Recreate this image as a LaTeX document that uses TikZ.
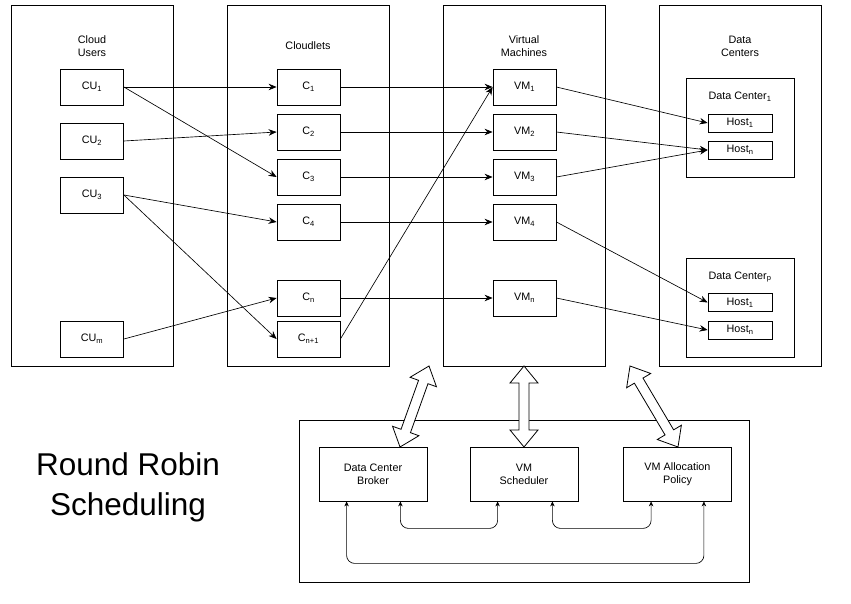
\documentclass[tikz,border=0pt]{standalone}
\usepackage{fontspec}
\setmainfont{Liberation Sans}
\usetikzlibrary{arrows.meta,calc}
\newcommand\hollowarrow[2]{%
  \coordinate (ha) at ($(#1)!17pt!(#2)$);
  \coordinate (hb) at ($(#2)!17pt!(#1)$);
  \draw[line width=0.8pt, fill=white] (#1) -- ($(ha)!14pt!90:(#2)$) -- ($(ha)!5pt!90:(#2)$)
    -- ($(hb)!5pt!-90:(#1)$) -- ($(hb)!14pt!-90:(#1)$) -- (#2)
    -- ($(hb)!14pt!90:(#1)$) -- ($(hb)!5pt!90:(#1)$)
    -- ($(ha)!5pt!-90:(#2)$) -- ($(ha)!14pt!-90:(#2)$) -- cycle;}
\begin{document}
\begin{tikzpicture}[x=1pt,y=-1pt,
  every node/.style={font=\fontsize{10.8}{12.8}\selectfont, align=center, inner sep=0pt},
  col/.style={draw, line width=0.8pt, minimum width=162pt, minimum height=360.5pt},
  ibox/.style={draw, line width=0.8pt, minimum width=63pt, minimum height=36pt},
  hbox/.style={draw, line width=0.8pt, minimum width=64pt, minimum height=18pt},
  dcbox/.style={draw, line width=0.8pt, minimum width=108pt, minimum height=99pt},
  mbox/.style={draw, line width=0.8pt, minimum width=108pt, minimum height=54pt},
  conn/.style={line width=0.65pt, -{Stealth[length=8pt,width=6.5pt]}},
  sconn/.style={line width=0.65pt, {Stealth[length=5pt,width=4.5pt]}-{Stealth[length=5pt,width=4.5pt]}, rounded corners=8pt}
]
\useasboundingbox (0,0) rectangle (851,604);
% columns
\node[col] (col1) at (92,185.75) {};
\node[col] (col2) at (308,185.75) {};
\node[col] (col3) at (524,185.75) {};
\node[col] (col4) at (740,185.75) {};
\node (t1) at (92,46.5) {Cloud\\Users};
\node (t2) at (308,46) {Cloudlets};
\node (t3) at (524,46.5) {Virtual\\Machines};
\node (t4) at (740,46.5) {Data\\Centers};
% cloud users
\node[ibox] (cu1) at (92,87) {CU\textsubscript{1}};
\node[ibox] (cu2) at (92,141) {CU\textsubscript{2}};
\node[ibox] (cu3) at (92,195) {CU\textsubscript{3}};
\node[ibox] (cum) at (92,339) {CU\textsubscript{m}};
% cloudlets
\node[ibox] (c1) at (308.5,87) {C\textsubscript{1}};
\node[ibox] (c2) at (308.5,132) {C\textsubscript{2}};
\node[ibox] (c3) at (308.5,177) {C\textsubscript{3}};
\node[ibox] (c4) at (308.5,222) {C\textsubscript{4}};
\node[ibox] (cn) at (308.5,298) {C\textsubscript{n}};
\node[ibox] (cn1) at (308.5,339) {C\textsubscript{n+1}};
% VMs
\node[ibox] (vm1) at (524.5,87) {VM\textsubscript{1}};
\node[ibox] (vm2) at (524.5,132) {VM\textsubscript{2}};
\node[ibox] (vm3) at (524.5,177) {VM\textsubscript{3}};
\node[ibox] (vm4) at (524.5,222) {VM\textsubscript{4}};
\node[ibox] (vmn) at (524.5,298) {VM\textsubscript{n}};
% data centers
\node[dcbox] (dc1) at (740,127.5) {};
\node (dc1t) at (740,97) {Data Center\textsubscript{1}};
\node[hbox] (h11) at (740,123) {Host\textsubscript{1}};
\node[hbox] (h1n) at (740,150) {Host\textsubscript{n}};
\node[dcbox] (dcp) at (740,307.5) {};
\node (dcpt) at (740,277) {Data Center\textsubscript{p}};
\node[hbox] (hp1) at (740,302.5) {Host\textsubscript{1}};
\node[hbox] (hpn) at (740,330) {Host\textsubscript{n}};
% connectors CU -> C
\draw[conn] (cu1.east) -- (c1.west);
\draw[conn] (cu1.east) -- (c3.west);
\draw[conn] (cu2.east) -- (c2.west);
\draw[conn] (cu3.east) -- (c4.west);
\draw[conn] (cu3.east) -- (cn1.west);
\draw[conn] (cum.east) -- (cn.west);
% C -> VM
\draw[conn] (c1.east) -- (vm1.west);
\draw[conn] (c2.east) -- (vm2.west);
\draw[conn] (c3.east) -- (vm3.west);
\draw[conn] (c4.east) -- (vm4.west);
\draw[conn] (cn.east) -- (vmn.west);
\draw[conn] (cn1.east) -- (vm1.west);
% VM -> hosts
\draw[conn] (vm1.east) -- (h11.west);
\draw[conn] (vm2.east) -- (h1n.west);
\draw[conn] (vm3.east) -- (h1n.west);
\draw[conn] (vm4.east) -- (hp1.west);
\draw[conn] (vmn.east) -- (hpn.west);
% bottom
\node[draw, line width=0.8pt, minimum width=450pt, minimum height=162pt] (bottom) at (524,501) {};
\node[mbox] (dcb) at (373,474) {Data Center\\Broker};
\node[mbox] (vms) at (524,474) {VM\\Scheduler};
\node[mbox] (vmap) at (677.5,474) {VM Allocation\\Policy};
\node[font=\fontsize{31.5}{40}\selectfont] (rr) at (128,487) {Round Robin\\Scheduling};
% hollow double arrows
\coordinate (a1b) at (400,447);
\coordinate (a1t) at (429,366);
\coordinate (a2b) at (524,447);
\coordinate (a2t) at (524,366);
\coordinate (a3b) at (678,447);
\coordinate (a3t) at (630,366);
\hollowarrow{a1b}{a1t}
\hollowarrow{a2b}{a2t}
\hollowarrow{a3b}{a3t}
% small arrows
\coordinate (p1) at ([xshift=-27pt]dcb.south east);
\coordinate (p2) at ([xshift=28pt]vms.south west);
\coordinate (p3) at ([xshift=-26pt]vms.south east);
\coordinate (p4) at ([xshift=28pt]vmap.south west);
\coordinate (p5) at ([xshift=28pt]dcb.south west);
\coordinate (p6) at ([xshift=-28pt]vmap.south east);
\draw[sconn] (p1) -- ++(0,27) -| (p2);
\draw[sconn] (p3) -- ++(0,27) -| (p4);
\draw[sconn] (p5) -- ++(0,62) -| (p6);
\end{tikzpicture}
\end{document}
